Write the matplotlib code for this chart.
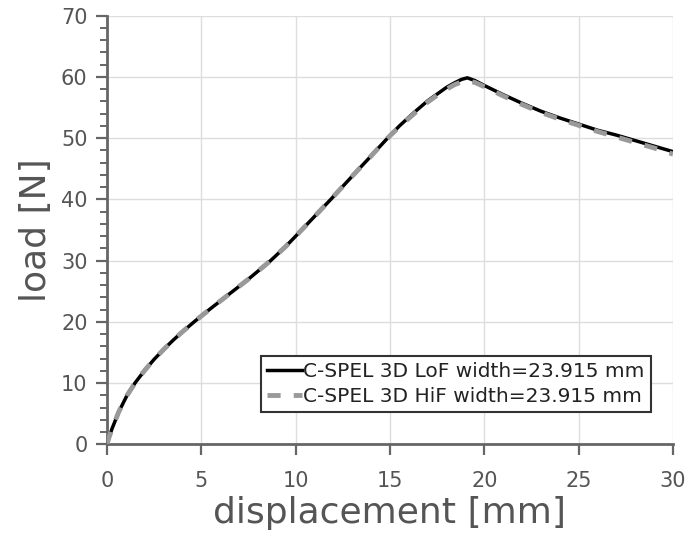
import matplotlib.pyplot as plt
from matplotlib.ticker import MultipleLocator

# load-displacement curves
disp_lof = [0, 0.1, 0.27, 0.62, 1.06, 1.5, 2.0, 2.5, 3.0, 3.5, 4.0, 4.69, 5.5,
            6.5, 7.5, 8.67, 9.5, 10.5, 11.86, 13.0, 14.0, 14.87, 15.5, 16.28,
            17.0, 17.5, 18.0, 18.4, 18.8, 19.1, 19.5, 20.0, 21.0, 22.0, 23.0,
            24.0, 25.0, 26.0, 27.0, 28.0, 29.0, 30.0]
load_lof = [0, 1.1, 2.6, 5.3, 8.0, 10.1, 12.1, 13.9, 15.5, 17.0, 18.4, 20.2, 22.2,
            24.6, 27.0, 30.0, 32.4, 35.6, 40.0, 43.8, 47.1, 50.0, 52.0, 54.2,
            56.1, 57.2, 58.3, 59.0, 59.6, 59.85, 59.4, 58.6, 57.1, 55.7, 54.4,
            53.3, 52.3, 51.3, 50.5, 49.6, 48.7, 47.8]

disp_hif = [0, 0.1, 0.27, 0.62, 1.06, 1.5, 2.0, 2.5, 3.0, 3.5, 4.0, 4.69, 5.5,
            6.5, 7.5, 8.67, 9.5, 10.5, 11.86, 13.0, 14.0, 14.87, 15.5, 16.28,
            17.0, 17.5, 18.0, 18.4, 18.8, 19.1, 19.5, 20.0, 21.0, 22.0, 23.0,
            24.0, 25.0, 26.0, 27.0, 28.0, 29.0, 30.0]
load_hif = [0, 1.1, 2.6, 5.3, 8.0, 10.1, 12.1, 13.9, 15.5, 17.0, 18.4, 20.2, 22.2,
            24.6, 27.0, 30.0, 32.4, 35.6, 40.0, 43.8, 47.1, 50.0, 51.9, 54.0,
            55.9, 57.0, 58.0, 58.7, 59.2, 59.35, 59.1, 58.4, 56.9, 55.5, 54.2,
            53.1, 52.1, 51.1, 50.2, 49.3, 48.4, 47.4]

labels = ["C-SPEL 3D LoF width=23.915 mm", "C-SPEL 3D HiF width=23.915 mm"]

txt = "#555555"
spine = "#666666"

fig = plt.figure(figsize=(6.86, 5.4), dpi=100)
ax = fig.add_axes([0.156, 0.177, 0.825, 0.794])

ax.plot(disp_lof, load_lof, color="black", lw=2.5, label=labels[0], zorder=3)
ax.plot(disp_hif, load_hif, color="#999999", lw=3.5, ls=(0, (2.7, 2.7)),
        label=labels[1], zorder=4)

ax.set_xlim(0, 30)
ax.set_ylim(0, 70)
ax.xaxis.set_major_locator(MultipleLocator(5))
ax.yaxis.set_major_locator(MultipleLocator(10))
ax.yaxis.set_minor_locator(MultipleLocator(2))

ax.grid(True, which="major", color="#dddddd", lw=1)
ax.set_axisbelow(True)

for s in ["top", "right"]:
    ax.spines[s].set_visible(False)
for s in ["left", "bottom"]:
    ax.spines[s].set_color(spine)
    ax.spines[s].set_linewidth(2)

ax.tick_params(which="major", direction="out", length=8, width=1.6, color=spine,
               labelcolor=txt, labelsize=15)
ax.tick_params(axis="x", which="major", pad=11)
ax.tick_params(axis="y", which="major", pad=6)
ax.tick_params(which="minor", direction="out", length=5, width=1.4, color=spine)

ax.set_xlabel("displacement [mm]", fontsize=26, color=txt, labelpad=4)
ax.set_ylabel("load [N]", fontsize=26, color=txt, labelpad=6)

leg = ax.legend(loc="lower right", bbox_to_anchor=(0.961, 0.076), fontsize=14.5,
                handlelength=1.75, handletextpad=0.05, borderpad=0.3,
                labelspacing=0.3, fancybox=False, framealpha=1,
                edgecolor="#333333", borderaxespad=0)
leg.get_frame().set_linewidth(1.5)
for t in leg.get_texts():
    t.set_color("#222222")

fig.savefig("out.png", dpi=100)
